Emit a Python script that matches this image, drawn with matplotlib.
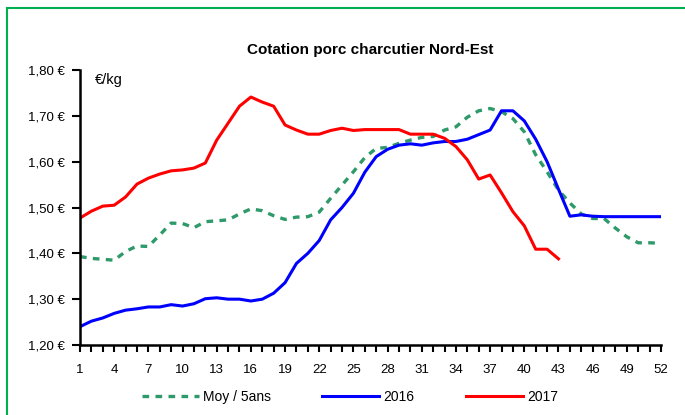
import matplotlib
matplotlib.use("Agg")
import matplotlib.pyplot as plt
from matplotlib.patches import Rectangle
from matplotlib.ticker import MultipleLocator, FuncFormatter

plt.rcParams['font.family'] = ['Liberation Sans', 'DejaVu Sans']

weeks = list(range(1, 53))

moy5ans = [1.393, 1.389, 1.387, 1.385, 1.404, 1.416, 1.415, 1.440, 1.466, 1.465,
           1.456, 1.469, 1.471, 1.473, 1.486, 1.497, 1.493, 1.482, 1.474, 1.479,
           1.480, 1.490, 1.520, 1.549, 1.578, 1.609, 1.629, 1.631, 1.640, 1.647,
           1.653, 1.655, 1.669, 1.676, 1.697, 1.711, 1.716, 1.709, 1.694, 1.665,
           1.615, 1.578, 1.538, 1.510, 1.486, 1.476, 1.476, 1.455, 1.436, 1.423,
           1.423, 1.422]

y2016 = [1.240, 1.252, 1.259, 1.269, 1.276, 1.279, 1.283, 1.283, 1.288, 1.285,
         1.290, 1.301, 1.303, 1.300, 1.300, 1.296, 1.300, 1.313, 1.336, 1.378,
         1.400, 1.428, 1.473, 1.500, 1.531, 1.577, 1.611, 1.627, 1.636, 1.639,
         1.636, 1.641, 1.644, 1.644, 1.649, 1.659, 1.669, 1.711, 1.711, 1.689,
         1.649, 1.600, 1.540, 1.481, 1.484, 1.481, 1.480, 1.480, 1.480, 1.480,
         1.480, 1.480]

weeks2017 = list(range(1, 44))
y2017 = [1.477, 1.492, 1.503, 1.505, 1.523, 1.551, 1.564, 1.573, 1.580, 1.582,
         1.586, 1.597, 1.647, 1.684, 1.721, 1.741, 1.730, 1.721, 1.680, 1.669,
         1.660, 1.660, 1.668, 1.673, 1.668, 1.670, 1.670, 1.670, 1.670, 1.660,
         1.660, 1.660, 1.651, 1.633, 1.604, 1.562, 1.571, 1.532, 1.491, 1.460,
         1.409, 1.409, 1.388]

xtick_labels = list(range(1, 53, 3))

fig = plt.figure(figsize=(6.85, 4.15), dpi=100)
W, H = 685, 415
ax = fig.add_axes([80 / W, 1 - 345 / H, (661 - 80) / W, (345 - 70) / H])

green = '#2E9A6A'
ax.plot(weeks, moy5ans, color=green, lw=2.4, dashes=(2.0, 1.9), label='Moy / 5ans')
ax.plot(weeks, y2016, color='#0000FF', lw=2.2, label='2016')
ax.plot(weeks2017, y2017, color='#FF0000', lw=2.2, label='2017')

ax.set_xlim(1, 52)
ax.set_ylim(1.2, 1.8)
ax.yaxis.set_major_locator(MultipleLocator(0.1))
ax.yaxis.set_major_formatter(FuncFormatter(lambda v, p: f"{v:.2f}".replace('.', ',') + " \u20ac"))
ax.set_xticks(xtick_labels)
ax.set_xticks(weeks, minor=True)
ax.tick_params(axis='x', which='both', direction='out', length=5, width=1.5, labelsize=9.5, pad=9, colors='black')
ax.tick_params(axis='y', which='major', direction='out', length=6, width=1.5, labelsize=9.5, pad=5)

for s in ['top', 'right']:
    ax.spines[s].set_visible(False)
for s in ['left', 'bottom']:
    ax.spines[s].set_linewidth(1.8)

fig.text(95 / W, 1 - 80 / H, '\u20ac/kg', fontsize=10.5, va='center', ha='left')
fig.text(370 / W, 1 - 50 / H, 'Cotation porc charcutier Nord-Est', fontsize=11,
         fontweight='bold', ha='center', va='center')

leg = ax.legend(loc='center', bbox_to_anchor=(350 / W, 1 - 397 / H), bbox_transform=fig.transFigure,
                ncol=3, frameon=False, fontsize=10, handlelength=4.1, handletextpad=0.3,
                columnspacing=3.7)

# green frame
fig.patches.append(Rectangle((7 / W, -0.05), 1.2, 1 - 8 / H + 0.05, transform=fig.transFigure,
                             fill=False, edgecolor='#00B050', lw=1.5, clip_on=False))

fig.savefig('out.png', dpi=100)
